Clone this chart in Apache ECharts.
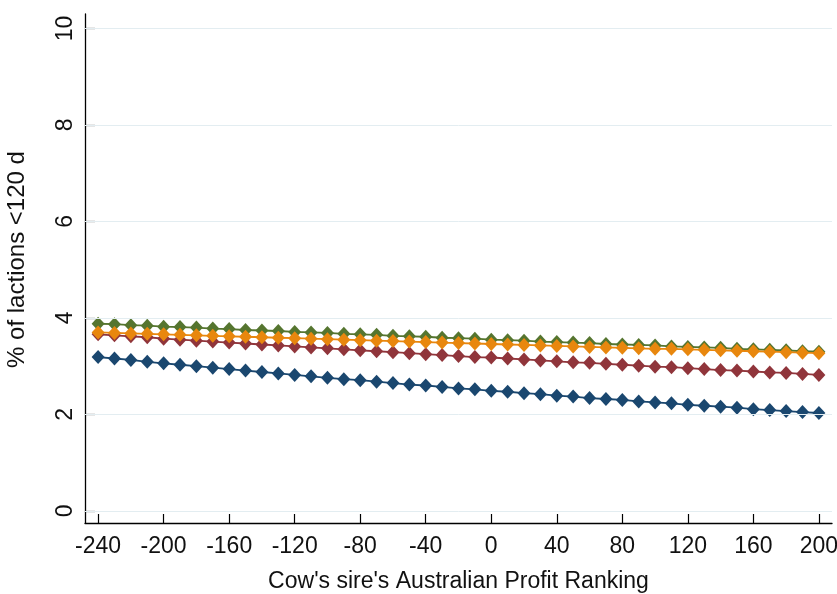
<!DOCTYPE html>
<html>
<head>
<meta charset="utf-8">
<script src="https://cdn.jsdelivr.net/npm/echarts@6/dist/echarts.min.js"></script>
<style>
  html, body { margin: 0; padding: 0; background: #ffffff; }
  #chart { width: 837px; height: 594px; }
</style>
</head>
<body>
<div id="chart"></div>
<script>
// Sire Australian Profit Ranking (x) and predicted % of lactations shorter than 120 d
const aprValues = [-240, -230, -220, -210, -200, -190, -180, -170, -160, -150,
  -140, -130, -120, -110, -100, -90, -80, -70, -60, -50,
  -40, -30, -20, -10, 0, 10, 20, 30, 40, 50,
  60, 70, 80, 90, 100, 110, 120, 130, 140, 150,
  160, 170, 180, 190, 200];

const navySeries = [3.19, 3.16, 3.13, 3.09, 3.06, 3.03, 3.00, 2.97, 2.94, 2.91,
  2.88, 2.85, 2.82, 2.79, 2.76, 2.73, 2.71, 2.68, 2.65, 2.62,
  2.60, 2.57, 2.54, 2.52, 2.49, 2.47, 2.44, 2.42, 2.39, 2.37,
  2.34, 2.32, 2.30, 2.27, 2.25, 2.23, 2.20, 2.18, 2.16, 2.14,
  2.11, 2.09, 2.07, 2.05, 2.03];

const maroonSeries = [3.66, 3.64, 3.62, 3.60, 3.57, 3.55, 3.53, 3.51, 3.49, 3.47,
  3.45, 3.43, 3.41, 3.39, 3.37, 3.35, 3.33, 3.31, 3.29, 3.27,
  3.25, 3.23, 3.21, 3.19, 3.18, 3.16, 3.14, 3.12, 3.10, 3.08,
  3.07, 3.05, 3.03, 3.01, 2.99, 2.98, 2.96, 2.94, 2.92, 2.91,
  2.89, 2.87, 2.86, 2.84, 2.82];

const greenSeries = [3.88, 3.87, 3.85, 3.84, 3.82, 3.81, 3.80, 3.78, 3.77, 3.75,
  3.74, 3.73, 3.71, 3.70, 3.69, 3.67, 3.66, 3.65, 3.63, 3.62,
  3.61, 3.59, 3.58, 3.57, 3.55, 3.54, 3.53, 3.51, 3.50, 3.49,
  3.48, 3.46, 3.45, 3.44, 3.43, 3.41, 3.40, 3.39, 3.38, 3.36,
  3.35, 3.34, 3.33, 3.31, 3.30];

const orangeSeries = [3.70, 3.69, 3.68, 3.67, 3.66, 3.65, 3.64, 3.63, 3.62, 3.61,
  3.60, 3.59, 3.58, 3.57, 3.56, 3.55, 3.54, 3.53, 3.52, 3.51,
  3.50, 3.49, 3.48, 3.47, 3.46, 3.45, 3.44, 3.43, 3.42, 3.41,
  3.40, 3.39, 3.38, 3.37, 3.36, 3.36, 3.35, 3.34, 3.33, 3.32,
  3.31, 3.30, 3.29, 3.28, 3.27];

// Tick positions shown on each axis
const xTicks = [-240, -200, -160, -120, -80, -40, 0, 40, 80, 120, 160, 200];
const yTicks = [0, 2, 4, 6, 8, 10];

const FONT = 'Liberation Sans';

function pairs(ys) {
  return aprValues.map((x, i) => [x, ys[i]]);
}

function lineSeries(name, ys, color, z) {
  return {
    name: name,
    type: 'line',
    data: pairs(ys),
    symbol: 'diamond',
    symbolSize: [13, 14],
    z: z,
    itemStyle: { color: color },
    lineStyle: { color: color, width: 1.8 },
    emphasis: { disabled: true }
  };
}

const chart = echarts.init(document.getElementById('chart'), null, { renderer: 'canvas' });

chart.setOption({
  animation: false,
  backgroundColor: '#ffffff',
  grid: { left: 85, right: 5, top: 14, bottom: 71, containLabel: false, outerBoundsMode: 'none' },
  xAxis: {
    type: 'value',
    min: -248,
    max: 208,
    name: "Cow's sire's Australian Profit Ranking",
    nameLocation: 'middle',
    nameGap: 47,
    nameTextStyle: { fontFamily: FONT, fontSize: 23, color: '#111' },
    axisLine: { show: true, onZero: false, lineStyle: { color: '#000', width: 1.3 } },
    axisTick: { show: true, inside: true, length: 9, customValues: xTicks,
                lineStyle: { color: '#000', width: 1.2 } },
    axisLabel: { customValues: xTicks, fontFamily: FONT, fontSize: 23, color: '#111', margin: 12 },
    splitLine: { show: false }
  },
  yAxis: {
    type: 'value',
    min: -0.25,
    max: 10.3,
    name: '% of lactions <120 d',
    nameLocation: 'middle',
    nameGap: 56,
    nameRotate: 90,
    nameTextStyle: { fontFamily: FONT, fontSize: 24, color: '#111', padding: [0, 0, 0, 18] },
    axisLine: { show: true, onZero: false, lineStyle: { color: '#000', width: 1.3 } },
    axisTick: { show: true, inside: true, length: 10, customValues: yTicks,
                lineStyle: { color: '#000', width: 1.2 } },
    axisLabel: { customValues: yTicks, rotate: 90, fontFamily: FONT, fontSize: 23, color: '#111', margin: 8 },
    splitLine: { show: false }
  },
  series: [
    {
      name: 'grid',
      type: 'line',
      data: [],
      z: 1,
      silent: true,
      markLine: {
        silent: true,
        symbol: 'none',
        label: { show: false },
        lineStyle: { color: '#e3edf1', width: 1, type: 'solid' },
        data: yTicks.map(v => ({ yAxis: v }))
      }
    },
    lineSeries('navy', navySeries, '#1a476f', 2),
    lineSeries('maroon', maroonSeries, '#90353b', 3),
    lineSeries('green', greenSeries, '#55752f', 4),
    lineSeries('orange', orangeSeries, '#e8870e', 5)
  ]
});
</script>
</body>
</html>
